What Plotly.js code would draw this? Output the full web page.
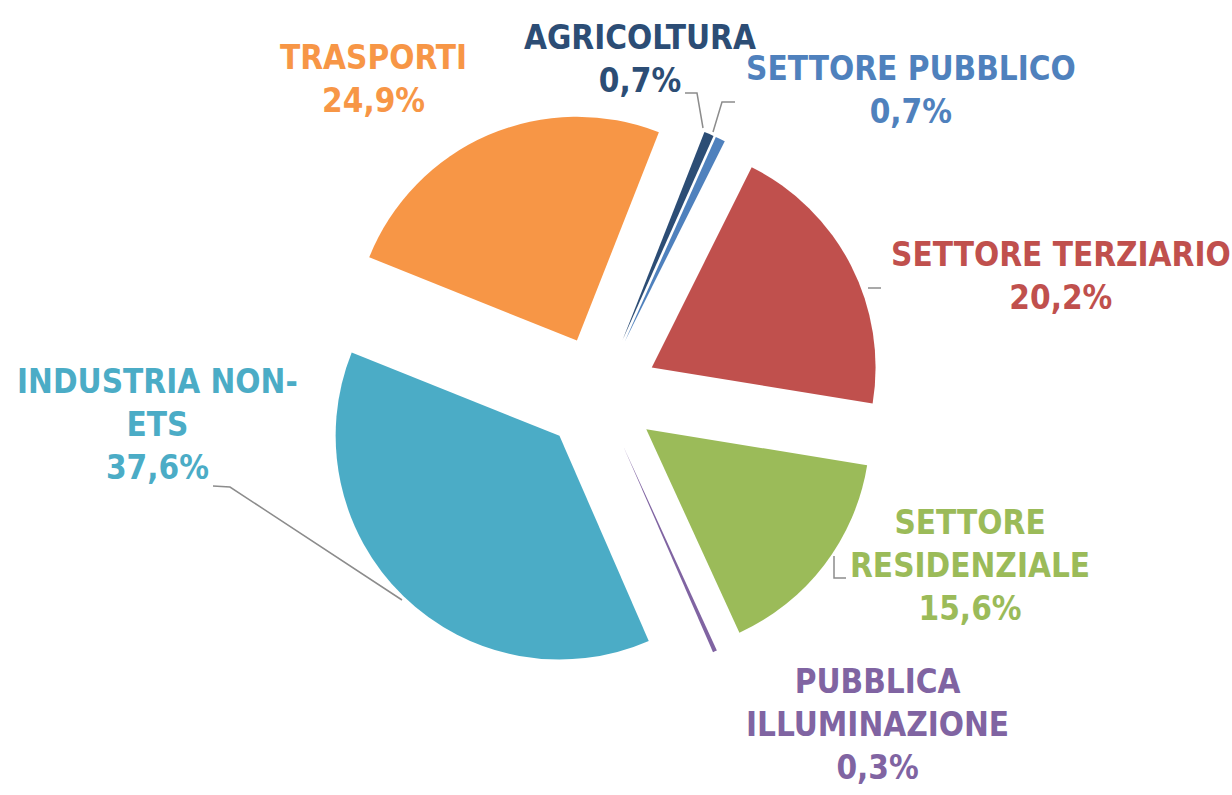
<!DOCTYPE html>
<html>
<head>
<meta charset="utf-8">
<script src="https://cdn.plot.ly/plotly-3.0.1.min.js"></script>
<style>html,body{margin:0;padding:0;background:#fff;}#chart{width:1232px;height:795px;}</style>
</head>
<body>
<div id="chart"></div>
<script>
// ---- data ----
var categories = ['SETTORE PUBBLICO', 'SETTORE TERZIARIO', 'SETTORE RESIDENZIALE', 'PUBBLICA ILLUMINAZIONE', 'INDUSTRIA NON-ETS', 'TRASPORTI', 'AGRICOLTURA'];
var shares = [0.7, 20.2, 15.6, 0.3, 37.6, 24.9, 0.7];
var labelText = ['SETTORE PUBBLICO', 'SETTORE TERZIARIO', 'SETTORE<br>RESIDENZIALE', 'PUBBLICA<br>ILLUMINAZIONE', 'INDUSTRIA NON-<br>ETS', 'TRASPORTI', 'AGRICOLTURA'];
var sliceColors = ['#4F81BD', '#C0504D', '#9BBB59', '#8064A2', '#4BACC6', '#F79646', '#2C4D75'];

// ---- layout helpers (pixel positions of the label blocks) ----
var W = 1232, H = 795;
function px(x) { return x / W; }
function py(y) { return 1 - y / H; }
var labelPos = [[911, 90], [1061, 276], [970, 565], [877, 724], [157, 424], [373, 79], [640, 59]];
var FONT = '"DejaVu Sans Condensed", "Liberation Sans Narrow", sans-serif';

function pct(v) { return v.toFixed(1).replace('.', ',') + '%'; }

var annotations = categories.map(function (c, i) {
  return {
    xref: 'paper', yref: 'paper',
    x: px(labelPos[i][0]), y: py(labelPos[i][1]),
    xanchor: 'center', yanchor: 'middle', align: 'center',
    showarrow: false,
    text: '<b>' + labelText[i] + '<br>' + pct(shares[i]) + '</b>',
    font: { family: FONT, size: 33, color: sliceColors[i] }
  };
});

function seg(pts) {
  var d = 'M ' + px(pts[0][0]) + ' ' + py(pts[0][1]);
  for (var k = 1; k < pts.length; k++) d += ' L ' + px(pts[k][0]) + ' ' + py(pts[k][1]);
  return { type: 'path', xref: 'paper', yref: 'paper', path: d, line: { color: '#8C8C8C', width: 1.5 } };
}
var shapes = [
  seg([[685, 93], [697, 93], [703, 128]]),
  seg([[735, 102], [722, 102], [713, 132]]),
  seg([[868, 288], [881, 288]]),
  seg([[213, 486], [230, 487], [402, 600]]),
  seg([[834, 556], [834, 578], [846, 578]])
];

var trace = {
  type: 'pie',
  labels: categories,
  values: shares,
  sort: false,
  direction: 'clockwise',
  rotation: 24,
  pull: shares.map(function () { return 0.26; }),
  marker: { colors: sliceColors, line: { width: 0 } },
  textinfo: 'none',
  hoverinfo: 'label+percent',
  domain: { x: [0.2581, 0.7159], y: [0.1497, 0.8591] }
};

var layout = {
  width: W, height: H,
  margin: { l: 0, r: 0, t: 0, b: 0 },
  paper_bgcolor: '#ffffff',
  showlegend: false,
  annotations: annotations,
  shapes: shapes
};

Plotly.newPlot('chart', [trace], layout, { displayModeBar: false, staticPlot: true });
</script>
</body>
</html>
